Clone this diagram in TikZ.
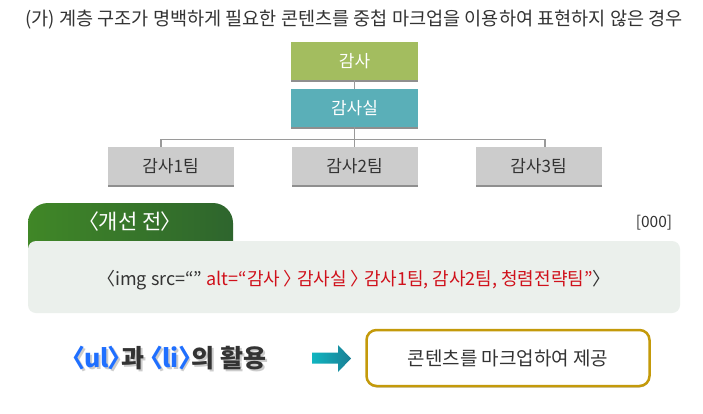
\documentclass[tikz,border=0pt]{standalone}
\usepackage{fontspec}
\setmainfont{Noto Sans CJK KR}[RawFeature={+palt}]
\usetikzlibrary{shadows}
\definecolor{txt}{HTML}{333333}
\definecolor{gtop}{HTML}{A3BD5F}
\definecolor{gmid}{HTML}{5AAFB8}
\definecolor{gchild}{HTML}{CCCCCC}
\definecolor{lnc}{HTML}{9A9A9A}
\definecolor{tabl}{HTML}{408727}
\definecolor{tabr}{HTML}{2E652D}
\definecolor{panel}{HTML}{EBF0EC}
\definecolor{redt}{HTML}{D0111B}
\definecolor{bluet}{HTML}{1F6FFF}
\definecolor{gold}{HTML}{C49A0A}
\definecolor{arl}{HTML}{10B5C0}
\definecolor{arr}{HTML}{1A7F95}
\tikzset{
  orgbox/.style={minimum width=127pt, minimum height=38pt, inner sep=0pt,
    drop shadow={shadow xshift=0pt, shadow yshift=-2pt, fill=black!55, opacity=0.8}},
  toptext/.style={text=white, font=\fontsize{17}{17}\selectfont},
  childtext/.style={text=txt, font=\fontsize{17}{17}\selectfont},
  conn/.style={draw=lnc, line width=1.8pt}
}
\begin{document}
\begin{tikzpicture}[x=1pt,y=-1pt]
\useasboundingbox[fill=white] (0,0) rectangle (703,413);
% title
\node[text=txt, font=\fontsize{18.6}{18.6}\selectfont] (title) at (354,20)
  {(가) 계층 구조가 명백하게 필요한 콘텐츠를 중첩 마크업을 이용하여 표현하지 않은 경우};
% org chart
\node[orgbox, fill=gtop, toptext] (top) at (354.5,61) {감사};
\node[orgbox, fill=gmid, toptext] (mid) at (354.5,108) {감사실};
\node[orgbox, minimum width=126pt, fill=gchild, childtext] (c1) at (170.5,166) {감사1팀};
\node[orgbox, minimum width=126pt, fill=gchild, childtext] (c2) at (354.5,166) {감사2팀};
\node[orgbox, minimum width=126pt, fill=gchild, childtext] (c3) at (538.5,166) {감사3팀};
\coordinate (hub) at (354.5,139.5);
\coordinate (h1) at (161,139.5);
\coordinate (h3) at (545,139.5);
\draw[conn] (top.south) -- (mid.north);
\draw[conn] (mid.south) -- (hub);
\draw[conn] (h1 |- c1.north) -- (h1) -- (h3) -- (h3 |- c3.north);
\draw[conn] (hub) -- (c2.north);
% tab
\shade[left color=tabl, right color=tabr, rounded corners=20pt]
  (28,290) -- (28,203) -- (233,203) -- (233,290) -- cycle;
\node[text=white, font=\fontsize{21}{21}\selectfont] (tabt) at (130,222) {〈개선 전〉};
\node[text=txt, font=\fontsize{15.5}{15.5}\selectfont] (num) at (654,223) {[000]};
% panel
\fill[panel, rounded corners=8pt] (28,241) rectangle (680,313);
\node[font=\fontsize{18}{18}\selectfont, inner sep=0pt] (code) at (354,280)
  {\textcolor{txt}{〈img src=“”} \textcolor{redt}{alt=“감사 〉 감사실 〉 감사1팀, 감사2팀, 청렴전략팀”}\textcolor{txt}{〉}};
% bottom
\node[font=\fontsize{25}{25}\selectfont\bfseries, text=black!20] at (171,360.5)
  {〈ul〉과 〈li〉의 활용};
\node[font=\fontsize{25}{25}\selectfont\bfseries, text=txt] (use) at (169,358)
  {\textcolor{bluet}{〈ul〉}과 \textcolor{bluet}{〈li〉}의 활용};
\shade[left color=arl, right color=arr]
  (312,352.5) -- (338,352.5) -- (338,345) -- (351,358.5) -- (338,372) -- (338,363.5) -- (312,363.5) -- cycle;
\node[draw=gold, line width=2.5pt, fill=white, rounded corners=10pt,
  minimum width=283pt, minimum height=56pt, text=txt,
  font=\fontsize{19}{19}\selectfont,
  drop shadow={shadow xshift=0pt, shadow yshift=-1.5pt, fill=black!40, opacity=0.6}]
  (result) at (508,358) {콘텐츠를 마크업하여 제공};
\end{tikzpicture}
\end{document}
